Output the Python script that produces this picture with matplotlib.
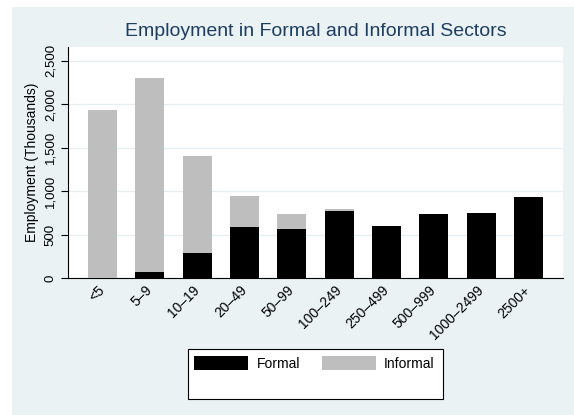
import matplotlib
matplotlib.use("Agg")
import matplotlib.pyplot as plt
from matplotlib.patches import Rectangle
from matplotlib.ticker import FuncFormatter
from matplotlib.transforms import ScaledTranslation
import numpy as np

plt.rcParams['font.family'] = ['Liberation Sans', 'DejaVu Sans']

categories = ["<5", "5\u20139", "10\u201319", "20\u201349", "50\u201399", "100\u2013249",
              "250\u2013499", "500\u2013999", "1000\u20132499", "2500+"]
formal = [0, 69, 287, 593, 566, 770, 601, 739, 754, 931]
informal = [1934, 2232, 1122, 353, 176, 26, 0, 0, 0, 0]
yticks = [0, 500, 1000, 1500, 2000, 2500]

W, H = 574, 415
fig = plt.figure(figsize=(W / 100, H / 100), dpi=100, facecolor='white')
bg = Rectangle((12 / W, 0), 1 - 12 / W, 1 - 7 / H, transform=fig.transFigure,
               facecolor='#EAF2F3', edgecolor='none', zorder=-10)
fig.patches.append(bg)

ax = fig.add_axes([68 / W, 1 - 278.3 / H, (563 - 68) / W, (278.3 - 46.7) / H])
ax.set_facecolor('white')
x = np.arange(len(categories))
b1 = ax.bar(x, formal, width=0.61, color='black', zorder=3, label='Formal')
b2 = ax.bar(x, informal, width=0.61, bottom=formal, color='#BEBEBE', zorder=3, label='Informal')

ax.set_xlim(-0.73, 9.73)
ax.set_ylim(0, 2661)
ax.set_yticks(yticks)
ax.yaxis.set_major_formatter(FuncFormatter(lambda v, p: f"{int(v):,}"))
ax.set_xticks(x)
ax.set_xticklabels(categories, rotation=45, ha='right', va='center',
                   rotation_mode='anchor', fontsize=10)
off = ScaledTranslation(-3 / 100, 0, fig.dpi_scale_trans)
for lab in ax.get_xticklabels():
    lab.set_transform(lab.get_transform() + off)
for lab in ax.get_yticklabels():
    lab.set_rotation(90)
    lab.set_va('center')
    lab.set_fontsize(9.5)
ax.tick_params(axis='y', length=5, width=0.8, pad=3, color='black')
ax.tick_params(axis='x', length=0, pad=7)
ax.grid(axis='y', color='#E6EEF0', lw=0.9, zorder=0)
ax.set_axisbelow(True)
for s in ['top', 'right']:
    ax.spines[s].set_visible(False)
for s in ['left', 'bottom']:
    ax.spines[s].set_color('black')
    ax.spines[s].set_linewidth(0.8)

ax.set_ylabel("Employment (Thousands)", fontsize=10, labelpad=4)
fig.text(316 / W, 1 - 32 / H, "Employment in Formal and Informal Sectors",
         ha='center', va='center', fontsize=14, color='#1E3D62')

frame = Rectangle((188 / W, 1 - 399 / H), 255 / W, 50 / H, transform=fig.transFigure,
                  facecolor='white', edgecolor='black', lw=0.8, zorder=1)
fig.patches.append(frame)
leg = fig.legend(handles=[b1, b2], labels=['Formal', 'Informal'], ncol=2,
                 loc='upper left', bbox_to_anchor=(194 / W, 1 - 356 / H),
                 frameon=False, fontsize=10, handlelength=3.9, handleheight=1.13,
                 handletextpad=0.6, columnspacing=1.56, borderpad=0, borderaxespad=0)

fig.savefig("out.png", dpi=100, facecolor='white')
